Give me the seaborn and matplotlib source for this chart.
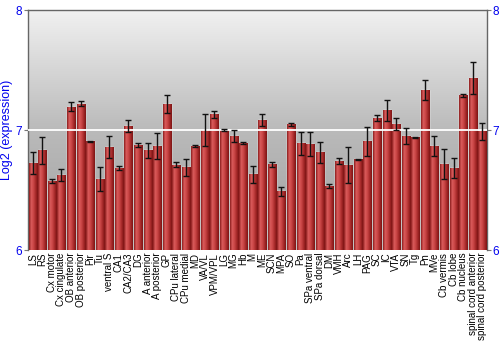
import numpy as np
import pandas as pd
import matplotlib
matplotlib.use("Agg")
import matplotlib.pyplot as plt
from matplotlib.colors import LinearSegmentedColormap
import seaborn as sns

regions = ["LS", "RS", "Cx motor", "Cx cingulate", "OB anterior", "OB posterior", "Pir", "Tu",
           "ventral S", "CA1", "CA2/CA3", "DG", "A anterior", "A posterior", "GP", "CPu lateral",
           "CPu medial", "MD", "VA/VL", "VPM/VPL", "LG", "MG", "Hb", "M", "ME", "SCN", "MPA", "SO",
           "Pa", "SPa ventral", "SPa dorsal", "DM", "VMH", "Arc", "LH", "PAG", "SC", "IC", "VTA",
           "SN", "Tg", "Pn", "MVe", "Cb vermis", "Cb lobe", "Cb nucleus", "spinal cord anterior",
           "spinal cord posterior"]
expression = [6.725, 6.83, 6.575, 6.625, 7.195, 7.22, 6.905, 6.595,
              6.86, 6.686, 7.03, 6.875, 6.83, 6.87, 7.217, 6.71,
              6.69, 6.867, 7.0, 7.13, 7.0, 6.953, 6.89, 6.63, 7.083, 6.714, 6.49, 7.047,
              6.89, 6.88, 6.814, 6.536, 6.742, 6.71, 6.755, 6.905, 7.1, 7.164, 7.05,
              6.95, 6.94, 7.333, 6.867, 6.714, 6.683, 7.29, 7.433, 6.99]
error = [0.09, 0.115, 0.02, 0.047, 0.035, 0.02, 0.005, 0.1,
         0.093, 0.017, 0.05, 0.017, 0.06, 0.108, 0.072, 0.02,
         0.07, 0.012, 0.13, 0.028, 0.012, 0.05, 0.008, 0.07, 0.05, 0.022, 0.036, 0.011,
         0.097, 0.1, 0.086, 0.017, 0.028, 0.15, 0.004, 0.12, 0.026, 0.09, 0.046,
         0.07, 0.005, 0.08, 0.083, 0.125, 0.08, 0.012, 0.13, 0.07]
y_ticks = [6, 7, 8]

df = pd.DataFrame({"region": regions, "expr": expression, "err": error})

sns.set_theme(style="white")
plt.rcParams['font.family'] = ['Liberation Sans', 'DejaVu Sans']

fig = plt.figure(figsize=(5, 3.5), dpi=100)
ax = fig.add_axes([0.056, 0.2857, 0.918, 0.6857])

# background gradient
bg = LinearSegmentedColormap.from_list("bg", ["#a0a0a0", "#bababa", "#f1f1f1"])
grad = np.linspace(0, 1, 256).reshape(-1, 1)
ax.imshow(grad, cmap=bg, aspect="auto", extent=[0, 1, 0, 1], origin="lower",
          transform=ax.transAxes, zorder=0)

sns.barplot(data=df, x="region", y="expr", color="#c03434", width=0.84,
            errorbar=None, ax=ax, zorder=2, saturation=1)

ymin, ymax = y_ticks[0], y_ticks[-1]

# bar gradient
barmap = LinearSegmentedColormap.from_list("bar", ["#8a1c1c", "#da5c5c", "#ca4646", "#a62a2a", "#7c1414"])
hgrad = np.linspace(0, 1, 64).reshape(1, -1)
for p in ax.patches:
    x0, w = p.get_x(), p.get_width()
    h = p.get_height()
    im = ax.imshow(hgrad, cmap=barmap, aspect="auto", extent=[x0, x0 + w, ymin, h],
                   zorder=3)
    im.set_clip_path(p)

ax.errorbar(np.arange(len(regions)), df["expr"], yerr=df["err"], fmt="none",
            ecolor="#111111", elinewidth=1, capsize=2, capthick=1, zorder=5)

ax.set_xlim(-0.5, len(regions) - 0.5)
ax.set_ylim(ymin, ymax)
ax.set_yticks(y_ticks)
ax.set_yticklabels([str(t) for t in y_ticks])
ax.axhline(7, color="white", lw=1.3, zorder=4)

ax.tick_params(axis="y", colors="#777777", labelcolor="#0000ee", labelsize=8.5,
               left=True, right=True, labelleft=True, labelright=True, length=3, width=0.8, pad=1)
ax.tick_params(axis="x", labelsize=7, rotation=90, length=0, pad=2, labelcolor="black")
for lab in ax.get_xticklabels():
    lab.set_verticalalignment("top")
ax.set_xlabel("")
ax.set_ylabel("Log2 (expression)", color="#0000ee", fontsize=9, labelpad=2)

for s in ["top", "left", "right"]:
    ax.spines[s].set_color("#666666")
    ax.spines[s].set_linewidth(1)
ax.spines["bottom"].set_visible(False)

fig.savefig("out.png", dpi=100)
